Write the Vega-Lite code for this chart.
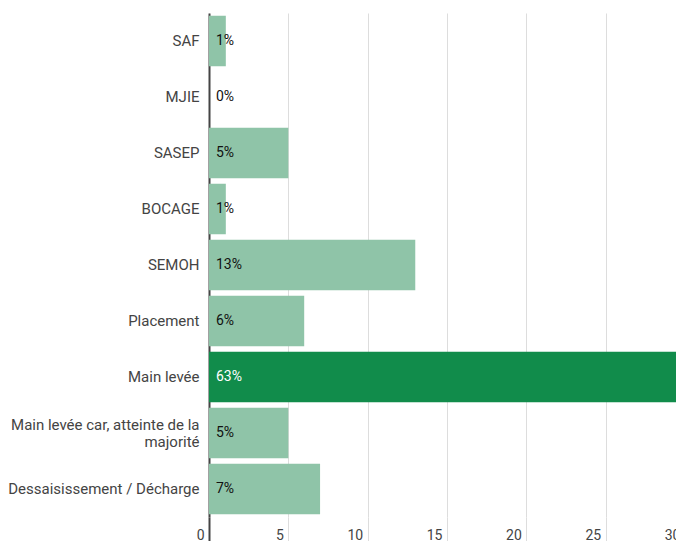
{
  "$schema": "https://vega.github.io/schema/vega-lite/v6.json",
  "autosize": "none",
  "width": 476,
  "height": 504,
  "padding": {"left": 209, "top": 13, "right": -9, "bottom": 24},
  "background": "#ffffff",
  "config": {"view": {"stroke": null}, "font": "Roboto"},
  "data": {
    "values": [
      {"name": "SAF", "count": 1.06, "pct": 0.01},
      {"name": "MJIE", "count": 0, "pct": 0.0},
      {"name": "SASEP", "count": 5, "pct": 0.05},
      {"name": "BOCAGE", "count": 1.06, "pct": 0.01},
      {"name": "SEMOH", "count": 13, "pct": 0.13},
      {"name": "Placement", "count": 6, "pct": 0.06},
      {"name": "Main levée", "count": 63, "pct": 0.63},
      {"name": "Main levée car, atteinte de la majorité", "count": 5, "pct": 0.05},
      {"name": "Dessaisissement / Décharge", "count": 7, "pct": 0.07}
    ]
  },
  "encoding": {
    "y": {
      "field": "name",
      "type": "nominal",
      "sort": null,
      "scale": {"paddingInner": 0.1, "paddingOuter": 0.05},
      "axis": {
        "title": null,
        "ticks": false,
        "domain": true,
        "domainColor": "#444444",
        "domainWidth": 2,
        "labelFont": "Roboto",
        "labelFontSize": 15,
        "labelColor": "#444444",
        "labelPadding": 10,
        "labelLimit": 220,
        "labelLineHeight": 17,
        "labelOffset": {"condition": {"test": "datum.label == 'Main levée car, atteinte de la majorité'", "value": -8}, "value": 0},
        "labelExpr": "datum.label == 'Main levée car, atteinte de la majorité' ? ['Main levée car, atteinte de la', 'majorité'] : datum.label"
      }
    }
  },
  "layer": [
    {
      "mark": {"type": "bar", "clip": true},
      "encoding": {
        "x": {
          "field": "count",
          "type": "quantitative",
          "scale": {"domain": [0, 30], "nice": false, "zero": true},
          "axis": {
            "title": null,
            "values": [0, 5, 10, 15, 20, 25, 30],
            "domain": false,
            "grid": true,
            "gridColor": "#dddddd",
            "gridWidth": 1,
            "ticks": true,
            "tickSize": 24,
            "tickColor": {"condition": {"test": "datum.value === 0", "value": "#444444"}, "value": "#dddddd"},
            "tickWidth": {"condition": {"test": "datum.value === 0", "value": 2}, "value": 1},
            "labelAlign": "right",
            "labelOffset": -5,
            "labelPadding": -13,
            "labelFont": "Roboto",
            "labelFontSize": 14,
            "labelColor": "#444444",
            "labelFlush": false,
            "labelOverlap": false
          }
        },
        "color": {
          "condition": {"test": "datum.name === 'Main levée'", "value": "#118c4b"},
          "value": "#8fc4a8"
        }
      }
    },
    {
      "mark": {"type": "text", "align": "left", "baseline": "middle", "dx": 7, "font": "Roboto", "fontSize": 14},
      "encoding": {
        "x": {"datum": 0, "type": "quantitative"},
        "text": {"field": "pct", "type": "quantitative", "format": ".0%"},
        "color": {
          "condition": {"test": "datum.name === 'Main levée'", "value": "#ffffff"},
          "value": "#111111"
        }
      }
    }
  ]
}
